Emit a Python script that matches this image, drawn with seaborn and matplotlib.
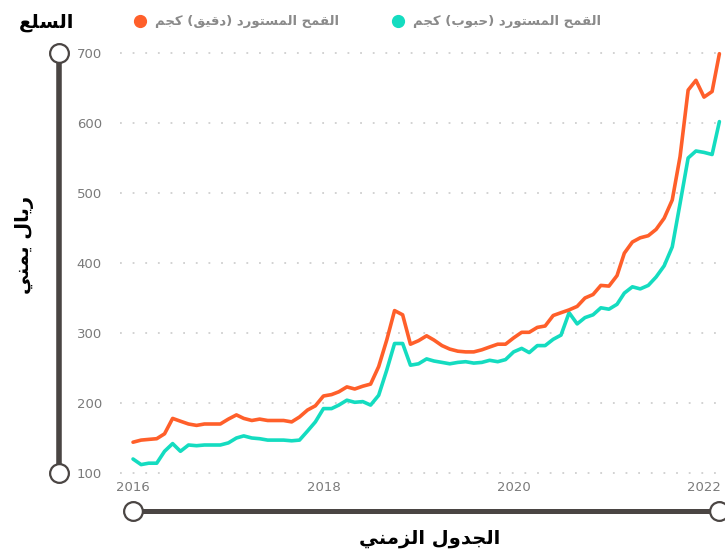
import pandas as pd
import matplotlib
matplotlib.use("Agg")
import matplotlib.pyplot as plt
import matplotlib.dates as mdates
from matplotlib.lines import Line2D
import seaborn as sns

# الأسعار الشهرية (ريال يمني / كجم) من يناير 2016 إلى مارس 2022
months = pd.date_range("2016-01-01", "2022-03-01", freq="MS")

flour = [144, 147, 148, 149, 156, 178, 174, 170, 168, 170, 170, 170,
         177, 183, 178, 175, 177, 175, 175, 175, 173, 180, 190, 196,
         210, 212, 216, 223, 220, 224, 227, 252, 290, 332, 326, 284,
         289, 296, 290, 282, 277, 274, 273, 273, 276, 280, 284, 284,
         293, 301, 301, 308, 310, 325, 329, 333, 338, 350, 355, 368,
         367, 382, 414, 430, 436, 439, 448, 464, 490, 552, 647, 661,
         637, 645, 699]

grain = [120, 112, 114, 114, 131, 142, 131, 140, 139, 140, 140, 140,
         143, 150, 153, 150, 149, 147, 147, 147, 146, 147, 160, 173,
         192, 192, 197, 204, 201, 202, 197, 211, 247, 285, 285, 254,
         256, 263, 260, 258, 256, 258, 259, 257, 258, 261, 259, 262,
         273, 278, 272, 282, 282, 291, 297, 329, 313, 322, 326, 336,
         334, 341, 357, 366, 363, 368, 380, 396, 423, 485, 550, 560,
         558, 555, 602]

flour_name = "القمح المستورد (دقيق) كجم"
grain_name = "القمح المستورد (حبوب) كجم"
y_ticks = [100, 200, 300, 400, 500, 600, 700]
x_ticks = ["2016-01-01", "2018-01-01", "2020-01-01", "2022-01-01"]

# matplotlib لا يشكّل الحروف العربية، فنحوّلها يدويا الى أشكال العرض
FORMS = {
    "ا": ("\uFE8D", "\uFE8E", None, None),
    "ب": ("\uFE8F", "\uFE90", "\uFE91", "\uFE92"),
    "ت": ("\uFE95", "\uFE96", "\uFE97", "\uFE98"),
    "ج": ("\uFE9D", "\uFE9E", "\uFE9F", "\uFEA0"),
    "ح": ("\uFEA1", "\uFEA2", "\uFEA3", "\uFEA4"),
    "د": ("\uFEA9", "\uFEAA", None, None),
    "ر": ("\uFEAD", "\uFEAE", None, None),
    "ز": ("\uFEAF", "\uFEB0", None, None),
    "س": ("\uFEB1", "\uFEB2", "\uFEB3", "\uFEB4"),
    "ع": ("\uFEC9", "\uFECA", "\uFECB", "\uFECC"),
    "ق": ("\uFED5", "\uFED6", "\uFED7", "\uFED8"),
    "ك": ("\uFED9", "\uFEDA", "\uFEDB", "\uFEDC"),
    "ل": ("\uFEDD", "\uFEDE", "\uFEDF", "\uFEE0"),
    "م": ("\uFEE1", "\uFEE2", "\uFEE3", "\uFEE4"),
    "ن": ("\uFEE5", "\uFEE6", "\uFEE7", "\uFEE8"),
    "و": ("\uFEED", "\uFEEE", None, None),
    "ي": ("\uFEF1", "\uFEF2", "\uFEF3", "\uFEF4"),
}


def ar(text):
    out = []
    for k, ch in enumerate(text):
        if ch not in FORMS:
            out.append(ch)
            continue
        prev = text[k - 1] if k > 0 else ""
        nxt = text[k + 1] if k + 1 < len(text) else ""
        iso, fin, ini, med = FORMS[ch]
        j_prev = prev in FORMS and FORMS[prev][2] is not None
        j_next = nxt in FORMS and ini is not None
        if j_prev and j_next:
            out.append(med)
        elif j_prev:
            out.append(fin)
        elif j_next:
            out.append(ini)
        else:
            out.append(iso)
    mirror = {"(": ")", ")": "("}
    return "".join(mirror.get(c, c) for c in reversed(out))


df = pd.DataFrame({"date": list(months) * 2,
                   "price": flour + grain,
                   "item": [flour_name] * len(flour) + [grain_name] * len(grain)})

sns.set_theme(style="white")
plt.rcParams["font.family"] = ["DejaVu Sans"]

colors = {flour_name: "#ff5f2a", grain_name: "#14dcc0"}

fig = plt.figure(figsize=(7.25, 5.55), dpi=100)
ax = fig.add_axes([120 / 725, 1 - 476.5 / 555, 602 / 725, 427 / 555])

sns.lineplot(data=df, x="date", y="price", hue="item", palette=colors,
             hue_order=[grain_name, flour_name], linewidth=2.6, ax=ax, legend=False)

ax.set_ylim(95, 705)
ax.set_xlim(pd.Timestamp("2015-11-12"), pd.Timestamp("2022-03-11"))
ax.set_yticks(y_ticks)
ax.set_xticks(pd.to_datetime(x_ticks))
ax.xaxis.set_major_formatter(mdates.DateFormatter("%Y"))
ax.yaxis.grid(True, color="#cfcfcf", linestyle=(0, (1, 6)), linewidth=1.3)
ax.xaxis.grid(False)
for s in ax.spines.values():
    s.set_visible(False)
ax.tick_params(axis="y", length=0, pad=13, labelsize=9.5, labelcolor="#7a7a7a")
ax.tick_params(axis="x", length=0, pad=3, labelsize=9.5, labelcolor="#7a7a7a")
ax.set_xlabel("")
ax.set_ylabel("")

# الخطوط الزخرفية للمحاور
dark = "#4a4543"
W, H = 725, 555
fig.add_artist(Line2D([59 / W, 59 / W], [1 - 53 / H, 1 - 473 / H], color=dark,
                      linewidth=4, solid_capstyle="butt"))
fig.add_artist(Line2D([59 / W, 59 / W], [1 - 53 / H, 1 - 473 / H], linestyle="",
                      marker="o", markersize=13.5, markerfacecolor="white",
                      markeredgecolor=dark, markeredgewidth=1.6))
fig.add_artist(Line2D([133 / W, 719 / W], [1 - 511 / H, 1 - 511 / H], color=dark,
                      linewidth=3.6, solid_capstyle="butt"))
fig.add_artist(Line2D([133 / W, 719 / W], [1 - 511 / H, 1 - 511 / H], linestyle="",
                      marker="o", markersize=13.5, markerfacecolor="white",
                      markeredgecolor=dark, markeredgewidth=1.6))

fig.text(47 / W, 1 - 22 / H, ar("السلع"), ha="center", va="center",
         fontsize=14, fontweight="bold", color="black")
fig.text(24 / W, 1 - 245 / H, ar("ريال يمني"), ha="center", va="center",
         rotation=90, fontsize=14, fontweight="bold", color="black")
fig.text(430 / W, 1 - 538 / H, ar("الجدول الزمني"), ha="center", va="center",
         fontsize=14, fontweight="bold", color="black")

handles = [Line2D([], [], linestyle="", marker="o", markersize=8.5, color=colors[flour_name]),
           Line2D([], [], linestyle="", marker="o", markersize=8.5, color=colors[grain_name])]
fig.legend(handles, [ar(flour_name), ar(grain_name)], ncol=2, frameon=False,
           loc="center left", bbox_to_anchor=(122 / W, 1 - 22 / H),
           labelcolor="#8a8a8a", prop={"weight": "bold", "size": 9.5},
           handletextpad=0.6, columnspacing=4.0, handlelength=1.0)

fig.savefig("out.png", dpi=100)
